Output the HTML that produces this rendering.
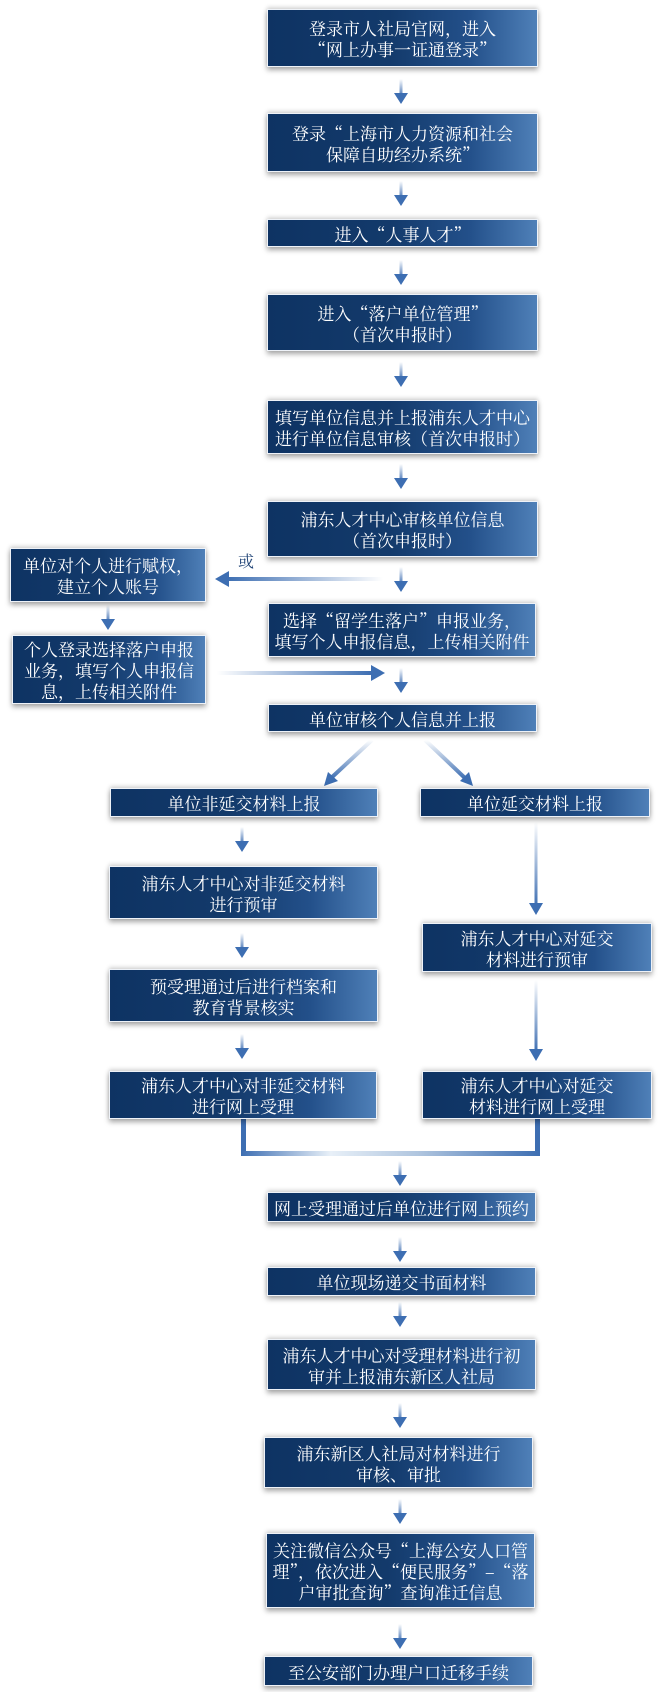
<!DOCTYPE html>
<html><head><meta charset="utf-8">
<style>
body{margin:0;background:#fff;width:660px;height:1692px;position:relative;overflow:hidden;font-family:"Noto Serif CJK SC","Liberation Serif",serif;}
.b{position:absolute;box-sizing:border-box;border:1.5px solid #eef2f8;background:linear-gradient(90deg,#0e3363 0%,#133a6b 45%,#23508a 75%,#4f80b8 100%);color:#fff;display:flex;align-items:center;justify-content:center;text-align:center;font-size:17px;line-height:21px;box-shadow:0 3px 5px rgba(0,0,0,.35),0 -2px 4px rgba(0,0,0,.15);white-space:nowrap;letter-spacing:0px;}
svg{position:absolute;left:0;top:0;}
</style></head><body>
<svg width="660" height="1692">
<defs>
<linearGradient id="gv" x1="0" y1="0" x2="0" y2="1"><stop offset="0" stop-color="#ffffff"/><stop offset="1" stop-color="#3d6eb2"/></linearGradient>
<linearGradient id="gl" x1="1" y1="0" x2="0" y2="0"><stop offset="0" stop-color="#ffffff"/><stop offset="1" stop-color="#3d6eb2"/></linearGradient>
<linearGradient id="gr" x1="0" y1="0" x2="1" y2="0"><stop offset="0" stop-color="#ffffff"/><stop offset="1" stop-color="#3d6eb2"/></linearGradient>
<linearGradient id="gb" x1="0" y1="0" x2="1" y2="0"><stop offset="0" stop-color="#3d6eb2"/><stop offset=".3" stop-color="#e8f0f8"/><stop offset=".6" stop-color="#aec4de"/><stop offset="1" stop-color="#3d6eb2"/></linearGradient>
<g id="a"><rect x="-1.5" y="0" width="3" height="18" fill="url(#gv)"/><polygon points="-7,14 7,14 0,25" fill="#3d6eb2"/></g>
</defs>
<use href="#a" x="401" y="79"/>
<use href="#a" x="401" y="181"/>
<use href="#a" x="401" y="260"/>
<use href="#a" x="401" y="362"/>
<use href="#a" x="401" y="464"/>
<use href="#a" x="401" y="567"/>
<use href="#a" x="108" y="605"/>
<use href="#a" x="401" y="668"/>
<rect x="226" y="577" width="157" height="4" fill="url(#gl)"/>
<polygon points="215,579 229,571 229,587" fill="#3d6eb2"/>
<rect x="217" y="671" width="155" height="4" fill="url(#gr)"/>
<polygon points="385,673 371,665 371,681" fill="#3d6eb2"/>
<line x1="372" y1="740" x2="330" y2="779" stroke="url(#gv)" stroke-width="4"/>
<polygon points="324,786 328,772 338,781" fill="#3d6eb2"/>
<line x1="425" y1="740" x2="466" y2="779" stroke="url(#gv)" stroke-width="4"/>
<polygon points="473,786 460,781 469,772" fill="#3d6eb2"/>
<use href="#a" x="242" y="827"/>
<use href="#a" x="242" y="933"/>
<use href="#a" x="242" y="1034"/>
<rect x="534.5" y="822" width="3" height="85" fill="url(#gv)"/><polygon points="529,903 543,903 536,915" fill="#3d6eb2"/>
<rect x="534.5" y="980" width="3" height="72" fill="url(#gv)"/><polygon points="529,1049 543,1049 536,1061" fill="#3d6eb2"/>
<rect x="241" y="1119" width="5" height="37" fill="#3d6eb2"/>
<rect x="535" y="1119" width="5" height="37" fill="#3d6eb2"/>
<rect x="241" y="1151" width="299" height="5" fill="url(#gb)"/>
<use href="#a" x="400" y="1161"/>
<use href="#a" x="400" y="1237"/>
<use href="#a" x="400" y="1302"/>
<use href="#a" x="400" y="1403"/>
<use href="#a" x="400" y="1499"/>
<use href="#a" x="400" y="1624"/>
<text x="238" y="567" font-size="16" fill="#1b3f73" font-family="Noto Serif CJK SC,serif">或</text>
</svg>
<div class="b" style="left:267px;top:9px;width:271px;height:58px">登录市人社局官网，进入<br>“网上办事一证通登录”</div>
<div class="b" style="left:267px;top:113px;width:271px;height:59px">登录“上海市人力资源和社会<br>保障自助经办系统”</div>
<div class="b" style="left:267px;top:219px;width:271px;height:28px">进入“人事人才”</div>
<div class="b" style="left:267px;top:294px;width:271px;height:57px">进入“落户单位管理”<br>（首次申报时）</div>
<div class="b" style="left:267px;top:400px;width:271px;height:54px">填写单位信息并上报浦东人才中心<br>进行单位信息审核（首次申报时）</div>
<div class="b" style="left:267px;top:501px;width:271px;height:56px">浦东人才中心审核单位信息<br>（首次申报时）</div>
<div class="b" style="left:10px;top:548px;width:196px;height:54px">单位对个人进行赋权，<br>建立个人账号</div>
<div class="b" style="left:268px;top:603px;width:268px;height:54px">选择“留学生落户”申报业务，<br>填写个人申报信息，上传相关附件</div>
<div class="b" style="left:12px;top:635px;width:194px;height:69px">个人登录选择落户申报<br>业务，填写个人申报信<br>息，上传相关附件</div>
<div class="b" style="left:268px;top:704px;width:269px;height:28px">单位审核个人信息并上报</div>
<div class="b" style="left:110px;top:788px;width:268px;height:29px">单位非延交材料上报</div>
<div class="b" style="left:420px;top:788px;width:230px;height:29px">单位延交材料上报</div>
<div class="b" style="left:109px;top:866px;width:269px;height:53px">浦东人才中心对非延交材料<br>进行预审</div>
<div class="b" style="left:422px;top:923px;width:230px;height:49px">浦东人才中心对延交<br>材料进行预审</div>
<div class="b" style="left:109px;top:969px;width:269px;height:53px">预受理通过后进行档案和<br>教育背景核实</div>
<div class="b" style="left:109px;top:1071px;width:268px;height:48px">浦东人才中心对非延交材料<br>进行网上受理</div>
<div class="b" style="left:422px;top:1071px;width:230px;height:48px">浦东人才中心对延交<br>材料进行网上受理</div>
<div class="b" style="left:267px;top:1192px;width:269px;height:30px">网上受理通过后单位进行网上预约</div>
<div class="b" style="left:267px;top:1267px;width:269px;height:29px">单位现场递交书面材料</div>
<div class="b" style="left:267px;top:1339px;width:269px;height:51px">浦东人才中心对受理材料进行初<br>审并上报浦东新区人社局</div>
<div class="b" style="left:264px;top:1437px;width:269px;height:51px">浦东新区人社局对材料进行<br>审核、审批</div>
<div class="b" style="left:266px;top:1533px;width:269px;height:75px">关注微信公众号“上海公安人口管<br>理”，依次进入“便民服务”–“落<br>户审批查询”查询准迁信息</div>
<div class="b" style="left:264px;top:1656px;width:269px;height:30px">至公安部门办理户口迁移手续</div>
</body></html>
